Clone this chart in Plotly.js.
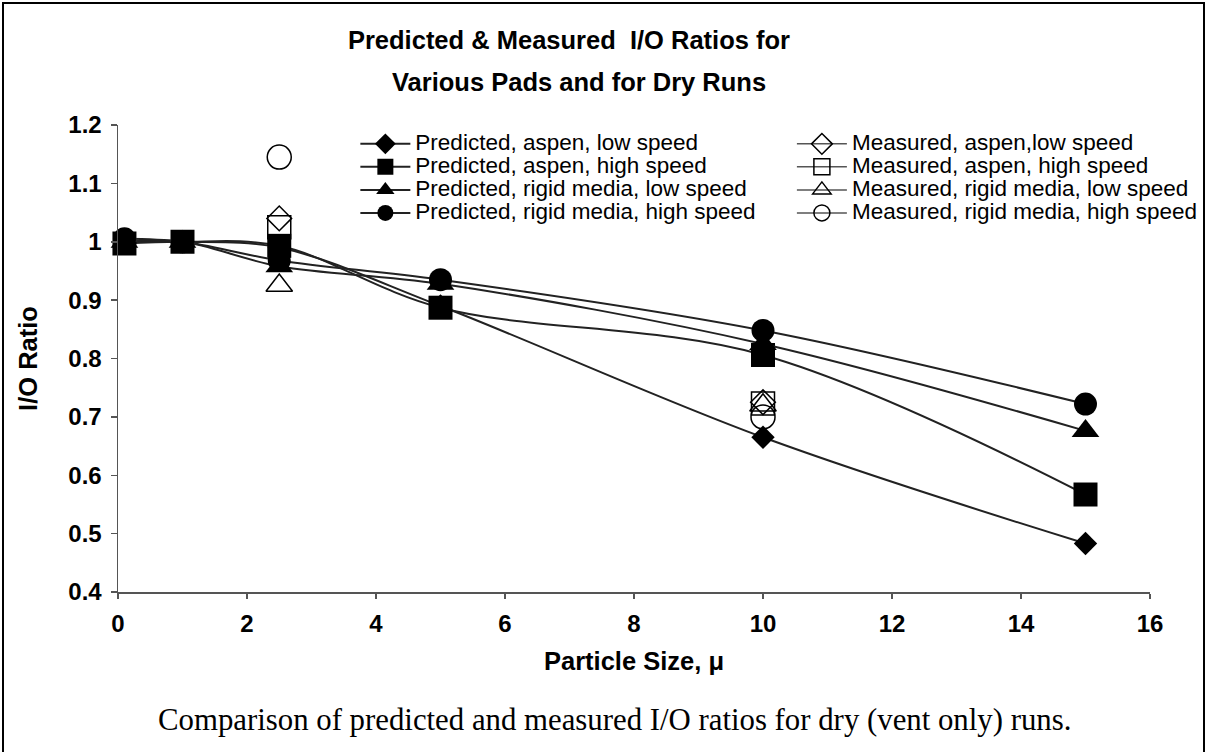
<!DOCTYPE html>
<html>
<head>
<meta charset="utf-8">
<script src="https://cdn.plot.ly/plotly-3.0.1.min.js"></script>
<style>
  html, body { margin: 0; padding: 0; background: #fff; }
  #wrap { position: relative; width: 1209px; height: 752px; overflow: hidden; }
  #chart { width: 1209px; height: 752px; }
  #frame { position: absolute; left: 2px; top: 2px; width: 1203px; height: 780px;
           border: 2px solid #000; pointer-events: none; box-sizing: border-box; }
</style>
</head>
<body>
<div id="wrap">
  <div id="chart"></div>
  <div id="frame"></div>
</div>
<script>
// ---- data ----
const particleSize = [0.1, 1, 2.5, 5, 10, 15];
const predAspenLow   = [1.0,   1.0, 0.99,  0.89,  0.665, 0.483];
const predAspenHigh  = [0.997, 1.0, 0.993, 0.887, 0.806, 0.567];
const predRigidLow   = [1.0,   1.0, 0.958, 0.928, 0.825, 0.676];
const predRigidHigh  = [1.005, 1.0, 0.968, 0.935, 0.848, 0.722];

const measSize = [2.5, 10];
const measAspenLow  = [1.04,  0.725];
const measAspenHigh = [1.025, 0.723];
const measRigidLow  = [0.925, 0.72];
const measRigidHigh = [1.145, 0.70];

const predNames = ['Predicted, aspen, low speed', 'Predicted, aspen, high speed',
                   'Predicted, rigid media, low speed', 'Predicted, rigid media, high speed'];
const measNames = ['Measured, aspen,low speed', 'Measured, aspen, high speed',
                   'Measured, rigid media, low speed', 'Measured, rigid media, high speed'];

const titleLine1 = 'Predicted & Measured  I/O Ratios for';
const titleLine2 = 'Various Pads and for Dry Runs';
const xTitle = 'Particle Size, \u03bc';
const yTitle = 'I/O Ratio';
const caption = 'Comparison of predicted and measured I/O ratios for dry (vent only) runs.';

// ---- styling ----
const SANS = 'Liberation Sans, Arial, sans-serif';
const SERIF = 'Liberation Serif, Times New Roman, serif';
const legendText = s => '<span style="font-size:22.5px">' + s + '</span>';

const predSeries = [predAspenLow, predAspenHigh, predRigidLow, predRigidHigh];
const predSymbols = ['diamond', 'square', 'triangle-up', 'circle'];
const predSizes = [18, 24, 24, 23];

const measSeries = [measAspenLow, measAspenHigh, measRigidLow, measRigidHigh];
const measSymbols = ['diamond-open', 'square-open', 'triangle-up-open', 'circle-open'];
const measSizes = [19, 23, 23, 24];

// gap between measured points so no connecting segment is drawn on the plot
function withGaps(arr) {
  const out = [];
  arr.forEach((v, i) => { if (i > 0) out.push(null); out.push(v); });
  return out;
}

const traces = [];
predSeries.forEach((ys, i) => {
  traces.push({
    type: 'scatter', mode: 'lines+markers',
    x: particleSize, y: ys,
    name: legendText(predNames[i]),
    legend: 'legend',
    cliponaxis: false,
    line: { color: '#222', width: 2, shape: 'spline', smoothing: 1 },
    marker: { symbol: predSymbols[i], size: predSizes[i], color: '#000', line: { width: 0 } }
  });
});
measSeries.forEach((ys, i) => {
  traces.push({
    type: 'scatter', mode: 'lines+markers',
    x: withGaps(measSize), y: withGaps(ys),
    connectgaps: false,
    name: legendText(measNames[i]),
    legend: 'legend2',
    cliponaxis: false,
    line: { color: '#555', width: 1.5 },
    marker: { symbol: measSymbols[i], size: measSizes[i], color: '#000', line: { width: 1.5, color: '#000' } }
  });
});

const legendCommon = {
  font: { family: SANS, size: 15.4, color: '#000' },
  bgcolor: 'rgba(0,0,0,0)', borderwidth: 0,
  itemwidth: 50, xanchor: 'left', yanchor: 'top', y: 0.995,
  itemclick: false, itemdoubleclick: false
};

const layout = {
  width: 1209, height: 752,
  margin: { l: 118, r: 59, t: 125, b: 160, autoexpand: false },
  paper_bgcolor: '#fff', plot_bgcolor: '#fff',
  font: { family: SANS, color: '#000' },
  showlegend: true,
  title: {
    text: titleLine1,
    font: { family: SANS, size: 25.5, weight: 'bold', color: '#000' },
    xref: 'paper', x: 0.437, xanchor: 'center',
    yref: 'container', y: 1 - 40 / 752, yanchor: 'middle'
  },
  xaxis: {
    range: [0, 16], tick0: 0, dtick: 2,
    showgrid: false, zeroline: false,
    showline: true, linecolor: '#555', linewidth: 1.5,
    ticks: 'outside', ticklen: 5, tickwidth: 1.5, tickcolor: '#555',
    ticklabelstandoff: 5,
    tickfont: { family: SANS, size: 24, weight: 'bold', color: '#000' },
    title: { text: xTitle, font: { family: SANS, size: 25.5, weight: 'bold', color: '#000' }, standoff: 16 }
  },
  yaxis: {
    range: [0.4, 1.2], tick0: 0.4, dtick: 0.1,
    showgrid: false, zeroline: false,
    showline: true, linecolor: '#555', linewidth: 1.5,
    ticks: 'outside', ticklen: 6, tickwidth: 1.5, tickcolor: '#555',
    ticklabelstandoff: 4,
    tickfont: { family: SANS, size: 24, weight: 'bold', color: '#000' },
    title: { text: yTitle, font: { family: SANS, size: 25.5, weight: 'bold', color: '#000' }, standoff: 23 }
  },
  legend: Object.assign({}, legendCommon, { x: 0.230 }),
  legend2: Object.assign({}, legendCommon, { x: 0.653 }),
  annotations: [
    {
      text: titleLine2, showarrow: false,
      xref: 'paper', yref: 'paper', x: 0.447, y: (592 - 82) / 467,
      xanchor: 'center', yanchor: 'middle',
      font: { family: SANS, size: 25.5, weight: 'bold', color: '#000' }
    },
    {
      text: caption, showarrow: false,
      xref: 'paper', yref: 'paper', x: (614 - 118) / 1032, y: (592 - 720) / 467,
      xanchor: 'center', yanchor: 'middle',
      font: { family: SERIF, size: 30.8, color: '#000' }
    }
  ]
};

Plotly.newPlot('chart', traces, layout, { displayModeBar: false, staticPlot: true });
</script>
</body>
</html>
